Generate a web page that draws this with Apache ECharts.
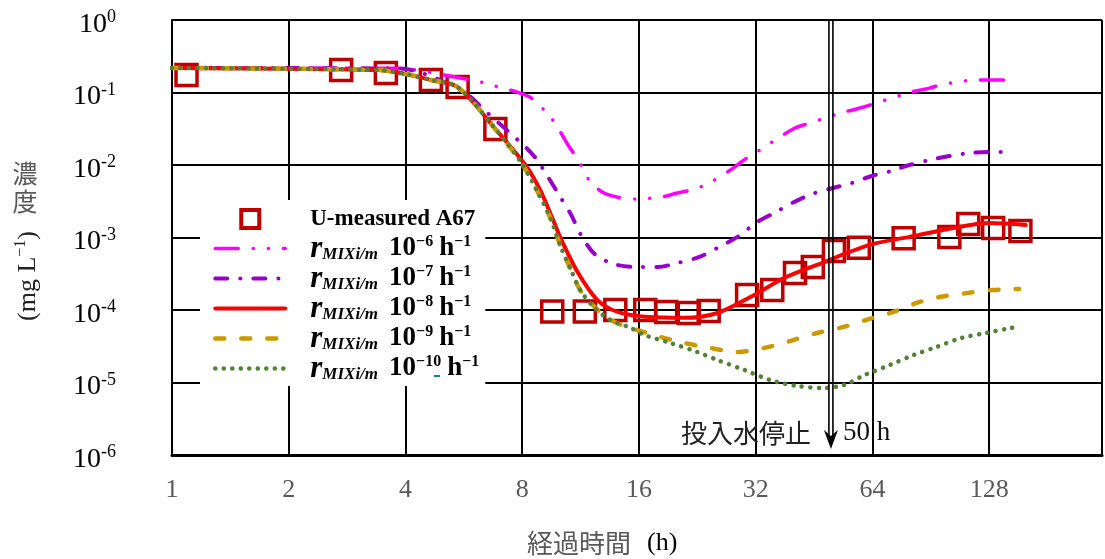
<!DOCTYPE html>
<html>
<head>
<meta charset="utf-8">
<script src="https://cdn.jsdelivr.net/npm/echarts@6/dist/echarts.min.js"></script>
<style>
  html, body { margin: 0; padding: 0; background: #fff; }
  #chart { width: 1105px; height: 559px; }
</style>
</head>
<body>
<div id="chart"></div>
<script>
// Elapsed time (h) axis ticks and concentration decades
const xTicks = [1, 2, 4, 8, 16, 32, 64, 128];
const yExponents = [0, -1, -2, -3, -4, -5, -6];

// Measured uranium concentration (mg/L)
const measuredName = 'U-measured A67';
const measuredT = [1.09, 2.73, 3.56, 4.65, 5.45, 6.82, 9.56, 11.6, 13.9, 16.6, 18.8, 21.5, 24.2,
  30.4, 35.3, 40.4, 44.9, 50.9, 59.0, 77.0, 101, 113, 131, 154];
const measuredC = [0.174, 0.204, 0.186, 0.149, 0.119, 0.0314, 9.5e-5, 9.5e-5, 1.0e-4, 1.0e-4, 9.4e-5, 9.1e-5, 9.7e-5,
  1.61e-4, 1.89e-4, 3.24e-4, 3.92e-4, 6.5e-4, 7.2e-4, 9.8e-4, 1.02e-3, 1.54e-3, 1.35e-3, 1.23e-3];

// Simulated curves for mixing rates r_MIXi/m
const rateExponents = ['\u22126', '\u22127', '\u22128', '\u22129', '\u221210'];

const rate6T = [1, 3.85, 4.87, 6.43, 7.07, 7.73, 8.44, 9.45, 10.0, 10.5, 11.15, 12.0, 13.0, 14.1, 15.7, 18.2, 20.1,
  22.3, 24.5, 27.5, 30.1, 32.5, 35.3, 40.4, 44.2, 48.3, 52.8, 60.8, 66.4, 72.1, 78.3, 89.7, 98.1, 107, 117, 136, 150];
const rate6C = [0.218, 0.216, 0.18, 0.135, 0.115, 0.102, 0.084, 0.046, 0.0294, 0.0189, 0.0117, 5.8e-3, 4.1e-3, 3.6e-3,
  3.4e-3, 3.6e-3, 4.1e-3, 4.67e-3, 5.8e-3, 8.5e-3, 0.0121, 0.0156, 0.0208, 0.0324, 0.038, 0.0445, 0.052, 0.063, 0.074,
  0.084, 0.098, 0.115, 0.131, 0.14, 0.149, 0.149, 0.144];

const rate7T = [1, 3.85, 5.6, 6.47, 8.15, 8.7, 9.33, 10.0, 10.7, 11.34, 12.3, 13.8, 15.6, 17.9, 20.1, 22.9, 25.5,
  28.7, 32.3, 35.7, 40.2, 44.7, 50.6, 56.6, 63.7, 71.7, 79.7, 89.7, 101, 113.6, 129.4, 147.4];
const rate7C = [0.218, 0.214, 0.105, 0.0538, 0.0177, 0.0121, 6.8e-3, 3.7e-3, 2.04e-3, 1.08e-3, 5.9e-4, 4.3e-4, 3.92e-4,
  3.92e-4, 4.45e-4, 5.4e-4, 7.2e-4, 1.02e-3, 1.64e-3, 2.18e-3, 3.09e-3, 3.98e-3, 4.82e-3, 5.65e-3, 7.05e-3, 8.3e-3,
  0.01, 0.0117, 0.0133, 0.0146, 0.0151, 0.0151];

const rate8T = [1, 3.4, 4.0, 4.65, 5.45, 6.82, 8.15, 8.9, 9.61, 10.1, 11.15, 12.5, 14.1, 16.9, 21.0, 25.5, 31.0,
  37.9, 46.0, 62.9, 79.7, 107, 128, 159];
const rate8C = [0.218, 0.204, 0.18, 0.149, 0.119, 0.0314, 0.01, 4.5e-3, 1.74e-3, 9.2e-4, 3.24e-4, 1.37e-4, 9.4e-5,
  8.0e-5, 7.8e-5, 9.1e-5, 1.51e-4, 2.76e-4, 4.18e-4, 7.9e-4, 1.02e-3, 1.40e-3, 1.58e-3, 1.49e-3];

const rate9T = [1, 3.4, 4.0, 4.65, 5.45, 6.82, 7.96, 8.8, 9.45, 10.08, 10.63, 11.28, 12.3, 13.5, 15.24, 18.2, 21.0,
  24.5, 28.7, 33.6, 39.2, 46.0, 54.0, 62.6, 72.5, 83.1, 95.2, 111.7, 131, 152.8];
const rate9C = [0.218, 0.204, 0.18, 0.149, 0.119, 0.0314, 0.0107, 4.1e-3, 1.86e-3, 7.2e-4, 3.8e-4, 1.89e-4, 1.1e-4,
  7.3e-5, 5.65e-5, 4.24e-5, 3.5e-5, 2.99e-5, 2.64e-5, 2.99e-5, 3.73e-5, 4.82e-5, 5.84e-5, 7.5e-5, 9.4e-5, 1.25e-4,
  1.51e-4, 1.71e-4, 1.89e-4, 1.95e-4];

const rate10T = [1, 3.4, 4.0, 4.65, 5.45, 6.82, 7.96, 8.8, 9.45, 10.08, 10.63, 11.28, 12.3, 13.5, 15.24, 16.56, 19.3,
  22.6, 25.5, 29.9, 34.9, 40.9, 48.0, 52.8, 55.6, 61.1, 70.8, 81.6, 93.5, 108.4, 125.7, 145.7, 152.8];
const rate10C = [0.218, 0.204, 0.18, 0.149, 0.119, 0.0314, 0.0107, 4.1e-3, 1.86e-3, 7.2e-4, 3.8e-4, 1.89e-4, 1.07e-4,
  7.3e-5, 5.65e-5, 4.5e-5, 3.5e-5, 2.64e-5, 2.04e-5, 1.49e-5, 1.08e-5, 8.95e-6, 8.4e-6, 8.95e-6, 9.8e-6, 1.27e-5,
  1.74e-5, 2.39e-5, 3.09e-5, 4.11e-5, 4.82e-5, 5.65e-5, 5.84e-5];

// Time at which the inflow water stops
const stopTime = 50;

const serif = '"Liberation Serif", "Times New Roman", serif';
const cjk = '"Noto Sans CJK JP", "Noto Sans CJK SC", sans-serif';

const rateNames = rateExponents.map(e => 'r_MIXi/m 10' + e);
const rateWidths = [3.5, 4, 4, 4.5, 4.5];

function pairs(ts, cs) { return ts.map((t, i) => [t, cs[i]]); }

function curve(idx, ts, cs, color, dash) {
  return {
    name: rateNames[idx],
    type: 'line',
    data: pairs(ts, cs),
    symbol: 'none',
    smooth: 0.3,
    silent: true,
    lineStyle: { color: color, width: rateWidths[idx], type: dash, cap: 'round' },
    itemStyle: { color: color }
  };
}

const chart = echarts.init(document.getElementById('chart'), null, { renderer: 'canvas' });

const legendText = { fontFamily: serif, fontWeight: 'bold', color: '#000', lineHeight: 30 };

const option = {
  animation: false,
  backgroundColor: '#fff',
  grid: { left: 172, right: 1, top: 20, bottom: 104, containLabel: false },
  xAxis: {
    type: 'log',
    logBase: 2,
    min: 1,
    max: 250,
    splitNumber: 8,
    axisLine: { show: true, lineStyle: { color: '#000', width: 3 } },
    axisTick: { show: false },
    splitLine: { show: true, lineStyle: { color: '#000', width: 2 } },
    axisLabel: {
      margin: 22,
      color: '#595959',
      fontFamily: serif,
      fontSize: 26,
      formatter: function (v) {
        const r = Math.round(v);
        return xTicks.indexOf(r) >= 0 && Math.abs(v - r) < 1e-6 ? String(r) : '';
      }
    }
  },
  yAxis: {
    type: 'log',
    logBase: 10,
    min: 1e-6,
    max: 1,
    axisLine: { show: true, lineStyle: { color: '#000', width: 2 } },
    axisTick: { show: false },
    splitLine: { show: true, lineStyle: { color: '#000', width: 2 } },
    axisLabel: {
      margin: 56,
      padding: [9, 0, 0, 0],
      formatter: function (v) {
        const e = Math.round(Math.log10(v));
        if (yExponents.indexOf(e) < 0) return '';
        return '{b|10}{s|' + e + '}';
      },
      rich: {
        b: { fontFamily: serif, fontSize: 28, color: '#000', lineHeight: 32 },
        s: { fontFamily: serif, fontSize: 18, color: '#000', lineHeight: 20, verticalAlign: 'top' }
      }
    }
  },
  legend: {
    orient: 'vertical',
    left: 200,
    top: 200,
    backgroundColor: '#fff',
    padding: [4, 6, 2, 13],
    itemGap: -1,
    itemWidth: 70,
    itemHeight: 18,
    selectedMode: false,
    data: [{ name: measuredName, icon: 'path://M0,0H10V10H0Z', itemStyle: { borderWidth: 4 } }].concat(
      rateNames.map((n, i) => ({ name: n, itemStyle: { opacity: 0 }, lineStyle: { width: rateWidths[i] } }))),
    textStyle: {
      color: '#000',
      fontFamily: serif,
      lineHeight: 30,
      padding: [0, 0, 0, 20],
      rich: {
        m: Object.assign({}, legendText, { fontSize: 23 }),
        r: Object.assign({}, legendText, { fontStyle: 'italic', fontSize: 31 }),
        sub: Object.assign({}, legendText, { fontStyle: 'italic', fontSize: 17, lineHeight: 17, verticalAlign: 'bottom' }),
        n: Object.assign({}, legendText, { fontSize: 27, padding: [0, 0, 0, 11] }),
        h: Object.assign({}, legendText, { fontSize: 27, padding: [0, 0, 0, 6] }),
        sup: Object.assign({}, legendText, { fontSize: 16, lineHeight: 20, verticalAlign: 'top' })
      }
    },
    formatter: function (name) {
      if (name === measuredName) return '{m|' + name + '}';
      const e = rateExponents[rateNames.indexOf(name)];
      return '{r|r}{sub|MIXi/m}{n|10}{sup|' + e + '}{h|h}{sup|\u22121}';
    }
  },
  series: [
    {
      name: measuredName,
      type: 'scatter',
      data: pairs(measuredT, measuredC),
      symbol: 'rect',
      symbolSize: 21,
      silent: true,
      itemStyle: { color: 'rgba(255,255,255,0)', borderColor: '#C00000', borderWidth: 3.5, opacity: 1 }
    },
    curve(0, rate6T, rate6C, '#FF00FF', [23, 15, 0.1, 15, 0.1, 15]),
    curve(1, rate7T, rate7C, '#9900CC', [12, 13, 0.1, 13]),
    curve(2, rate8T, rate8C, '#FF0000', 'solid'),
    curve(3, rate9T, rate9C, '#CC9900', [9, 17]),
    curve(4, rate10T, rate10C, '#538135', [0.1, 8.4])
  ]
};

chart.setOption(option);

// Annotation: inflow stop arrow and axis titles
const pTop = chart.convertToPixel({ xAxisIndex: 0, yAxisIndex: 0 }, [stopTime, 1]);
const pBot = chart.convertToPixel({ xAxisIndex: 0, yAxisIndex: 0 }, [stopTime, 1e-6]);
const ax = pTop[0];
const tip = pBot[1] - 6;

chart.setOption({
  graphic: [
    { type: 'line', z: 50, shape: { x1: ax - 2, y1: pTop[1], x2: ax - 2, y2: tip - 14 }, style: { stroke: '#000', lineWidth: 1.6 } },
    { type: 'line', z: 50, shape: { x1: ax + 2, y1: pTop[1], x2: ax + 2, y2: tip - 14 }, style: { stroke: '#000', lineWidth: 1.6 } },
    { type: 'polygon', z: 50, shape: { points: [[ax - 7, tip - 19], [ax, tip - 13], [ax + 7, tip - 19], [ax, tip]] }, style: { fill: '#000' } },
    { type: 'text', z: 50, x: ax - 20, y: tip - 16,
      style: { text: '投入水停止', font: '26px ' + cjk, fill: '#222', align: 'right', verticalAlign: 'middle' } },
    { type: 'text', z: 50, x: ax + 12, y: tip - 16,
      style: { text: '50 h', font: '27px ' + serif, fill: '#111', align: 'left', verticalAlign: 'middle' } },
    // y-axis title: upright CJK then rotated unit
    { type: 'text', z: 50, x: 25, y: 173,
      style: { text: '濃', font: '25px ' + cjk, fill: '#595959', align: 'center', verticalAlign: 'middle' } },
    { type: 'text', z: 50, x: 25, y: 201,
      style: { text: '度', font: '25px ' + cjk, fill: '#595959', align: 'center', verticalAlign: 'middle' } },
    { type: 'text', z: 50, x: 28, y: 276, rotation: Math.PI / 2,
      style: {
        text: '{a|(mg L}{s|\u22121}{a|)}', align: 'center', verticalAlign: 'middle',
        rich: {
          a: { fontFamily: serif, fontSize: 26, fill: '#222', lineHeight: 30 },
          s: { fontFamily: serif, fontSize: 16, fill: '#222', lineHeight: 18, verticalAlign: 'top' }
        }
      } },
    // x-axis title
    { type: 'text', z: 50, x: 527, y: 543,
      style: {
        text: '{c|経過時間}{l|(h)}', align: 'left', verticalAlign: 'middle',
        rich: {
          c: { fontFamily: cjk, fontSize: 26, fill: '#595959', lineHeight: 32 },
          l: { fontFamily: serif, fontSize: 26, fill: '#000', lineHeight: 32, padding: [0, 0, 0, 16] }
        }
      } },
    // small mark under the last legend entry
    { type: 'rect', z: 60, shape: { x: 434, y: 375, width: 6, height: 2 }, style: { fill: '#1F8080' } }
  ]
});
</script>
</body>
</html>
